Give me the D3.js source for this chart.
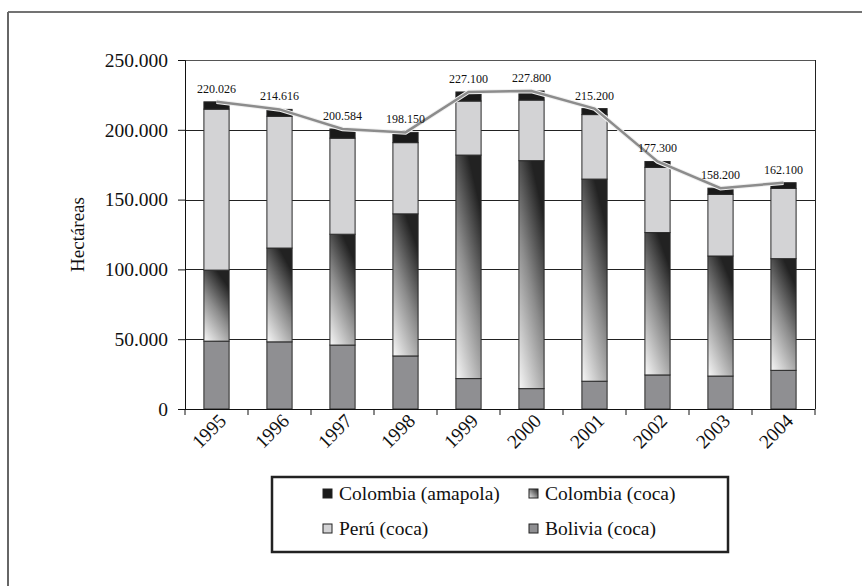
<!DOCTYPE html>
<html>
<head>
<meta charset="utf-8">
<script src="https://cdn.jsdelivr.net/npm/d3@7"></script>
<style>
  html, body { margin: 0; padding: 0; background: #fff; }
  svg { display: block; }
  text { font-family: "Liberation Serif", "Times New Roman", serif; fill: #111; }
</style>
</head>
<body>
<svg id="chart" width="862" height="586"></svg>
<script>
// ---- data ----
const years = ["1995","1996","1997","1998","1999","2000","2001","2002","2003","2004"];
const bolivia = [48600, 48100, 45800, 38000, 21800, 14600, 19900, 24400, 23600, 27700];
const colombiaCoca = [50900, 67200, 79400, 101800, 160100, 163300, 144800, 102000, 86000, 80000];
const peru = [115300, 94400, 68800, 51000, 38700, 43400, 46200, 46700, 44200, 50300];
const colombiaAmapola = [5226, 4916, 6584, 7350, 6500, 6500, 4300, 4200, 4400, 4100];
const totals = [220026, 214616, 200584, 198150, 227100, 227800, 215200, 177300, 158200, 162100];
const totalLabels = ["220.026","214.616","200.584","198.150","227.100","227.800","215.200","177.300","158.200","162.100"];
const yTicks = [0, 50000, 100000, 150000, 200000, 250000];
const yTickLabels = ["0","50.000","100.000","150.000","200.000","250.000"];
const seriesNames = ["Bolivia (coca)", "Colombia (coca)", "Perú (coca)", "Colombia (amapola)"];

// ---- layout ----
const svg = d3.select("#chart");
const pLeft = 185, pRight = 815, pTop = 60, pBottom = 409;

const x = d3.scaleBand().domain(years).range([pLeft, pRight]).paddingInner(0.6).paddingOuter(0.3);
const xStep = d3.scaleBand().domain(years).range([pLeft, pRight]);
const y = d3.scaleLinear().domain([0, 250000]).range([pBottom, pTop]);

// gradient
const defs = svg.append("defs");
const grad = defs.append("linearGradient").attr("id", "cocaGrad")
  .attr("x1", "0").attr("y1", "1").attr("x2", "0.5").attr("y2", "0");
grad.append("stop").attr("offset", "0").attr("stop-color", "#f8f8f8");
grad.append("stop").attr("offset", "0.55").attr("stop-color", "#8c8c8c");
grad.append("stop").attr("offset", "1").attr("stop-color", "#222");

const fills = ["#8f8f92", "url(#cocaGrad)", "#d3d3d5", "#1a1a1a"];

// outer frame
svg.append("line").attr("x1", 8).attr("x2", 862).attr("y1", 12).attr("y2", 12)
  .attr("stroke", "#444").attr("stroke-width", 1.5);
svg.append("line").attr("x1", 8).attr("x2", 8).attr("y1", 12).attr("y2", 586)
  .attr("stroke", "#666").attr("stroke-width", 2);

// gridlines
svg.append("g").selectAll("line").data(yTicks.slice(1)).join("line")
  .attr("x1", pLeft).attr("x2", pRight)
  .attr("y1", d => Math.round(y(d)) + 0.5).attr("y2", d => Math.round(y(d)) + 0.5)
  .attr("stroke", d => d === 250000 ? "#555" : "#222").attr("stroke-width", 1);
// right frame
svg.append("line").attr("x1", pRight + 0.5).attr("x2", pRight + 0.5)
  .attr("y1", pTop).attr("y2", pBottom).attr("stroke", "#222").attr("stroke-width", 1);

// stacked bars
const stackData = years.map((yr, i) => {
  const o = { year: yr };
  const vals = [bolivia[i], colombiaCoca[i], peru[i], colombiaAmapola[i]];
  seriesNames.forEach((n, k) => o[n] = vals[k]);
  return o;
});
const stack = d3.stack().keys(seriesNames)(stackData);

svg.append("g").selectAll("g").data(stack).join("g")
  .attr("fill", (d, k) => fills[k])
  .selectAll("rect").data(d => d).join("rect")
  .attr("x", d => x(d.data.year))
  .attr("width", x.bandwidth())
  .attr("y", d => y(d[1]))
  .attr("height", d => y(d[0]) - y(d[1]))
  .attr("stroke", "#2a2a2a").attr("stroke-width", 1);

// axes
const yAxis = d3.axisLeft(y).tickValues(yTicks).tickFormat((d, i) => yTickLabels[i]).tickSize(7).tickPadding(10);
const gy = svg.append("g").attr("transform", `translate(${pLeft},0)`).call(yAxis);
gy.select(".domain").attr("stroke", "#111");
gy.selectAll(".tick line").attr("stroke", "#111");
gy.selectAll(".tick text").style("font-size", "19.5px").style("font-family", "Liberation Serif, serif").attr("fill", "#111");

const gx = svg.append("g").attr("transform", `translate(0,${pBottom})`);
gx.append("line").attr("x1", pLeft).attr("x2", pRight).attr("y1", 0.5).attr("y2", 0.5).attr("stroke", "#111");
const boundaries = years.map(yr => xStep(yr)).concat([pRight]);
gx.selectAll("line.tk").data(boundaries).join("line").attr("class", "tk")
  .attr("x1", d => d).attr("x2", d => d).attr("y1", 0).attr("y2", 6).attr("stroke", "#111");
gx.selectAll("text.yr").data(years).join("text").attr("class", "yr")
  .attr("transform", d => `translate(${x(d) + x.bandwidth() / 2 + 11},${13}) rotate(-45)`)
  .attr("text-anchor", "end")
  .style("font-size", "19.5px")
  .text(d => d);

// y axis title
svg.append("text")
  .attr("transform", `translate(84,${(pTop + pBottom) / 2}) rotate(-90)`)
  .attr("text-anchor", "middle")
  .style("font-size", "19px")
  .text("Hectáreas");

// total line
const line = d3.line().x((d, i) => x(years[i]) + x.bandwidth() / 2).y(d => y(d));
svg.append("path").datum(totals).attr("d", line)
  .attr("fill", "none").attr("stroke", "#f0f0f0").attr("stroke-width", 4.5);
svg.append("path").datum(totals).attr("d", line)
  .attr("fill", "none").attr("stroke", "#8c8c8c").attr("stroke-width", 2.5);

// total labels
svg.append("g").selectAll("text").data(totals).join("text")
  .attr("x", (d, i) => x(years[i]) + x.bandwidth() / 2)
  .attr("y", d => y(d) - 9)
  .attr("text-anchor", "middle")
  .style("font-size", "12px")
  .text((d, i) => totalLabels[i]);

// legend
const lg = svg.append("g");
lg.append("rect").attr("x", 272).attr("y", 477).attr("width", 456).attr("height", 75)
  .attr("fill", "#fff").attr("stroke", "#222").attr("stroke-width", 2.5);
const legendOrder = [
  { k: 3, col: 0, row: 0 },
  { k: 1, col: 1, row: 0 },
  { k: 2, col: 0, row: 1 },
  { k: 0, col: 1, row: 1 }
];
const lgGrad = defs.append("linearGradient").attr("id", "legGrad")
  .attr("x1", "0").attr("y1", "1").attr("x2", "1").attr("y2", "0");
lgGrad.append("stop").attr("offset", "0").attr("stop-color", "#f0f0f0");
lgGrad.append("stop").attr("offset", "1").attr("stop-color", "#222");
const items = lg.selectAll("g.item").data(legendOrder).join("g").attr("class", "item")
  .attr("transform", d => `translate(${323 + d.col * 206},${489 + d.row * 35})`);
items.append("rect").attr("width", 9).attr("height", 9)
  .attr("fill", d => d.k === 1 ? "url(#legGrad)" : fills[d.k])
  .attr("stroke", "#222").attr("stroke-width", 1);
items.append("text").attr("x", 16).attr("y", 11)
  .style("font-size", "19.5px")
  .text(d => seriesNames[d.k]);
</script>
</body>
</html>
